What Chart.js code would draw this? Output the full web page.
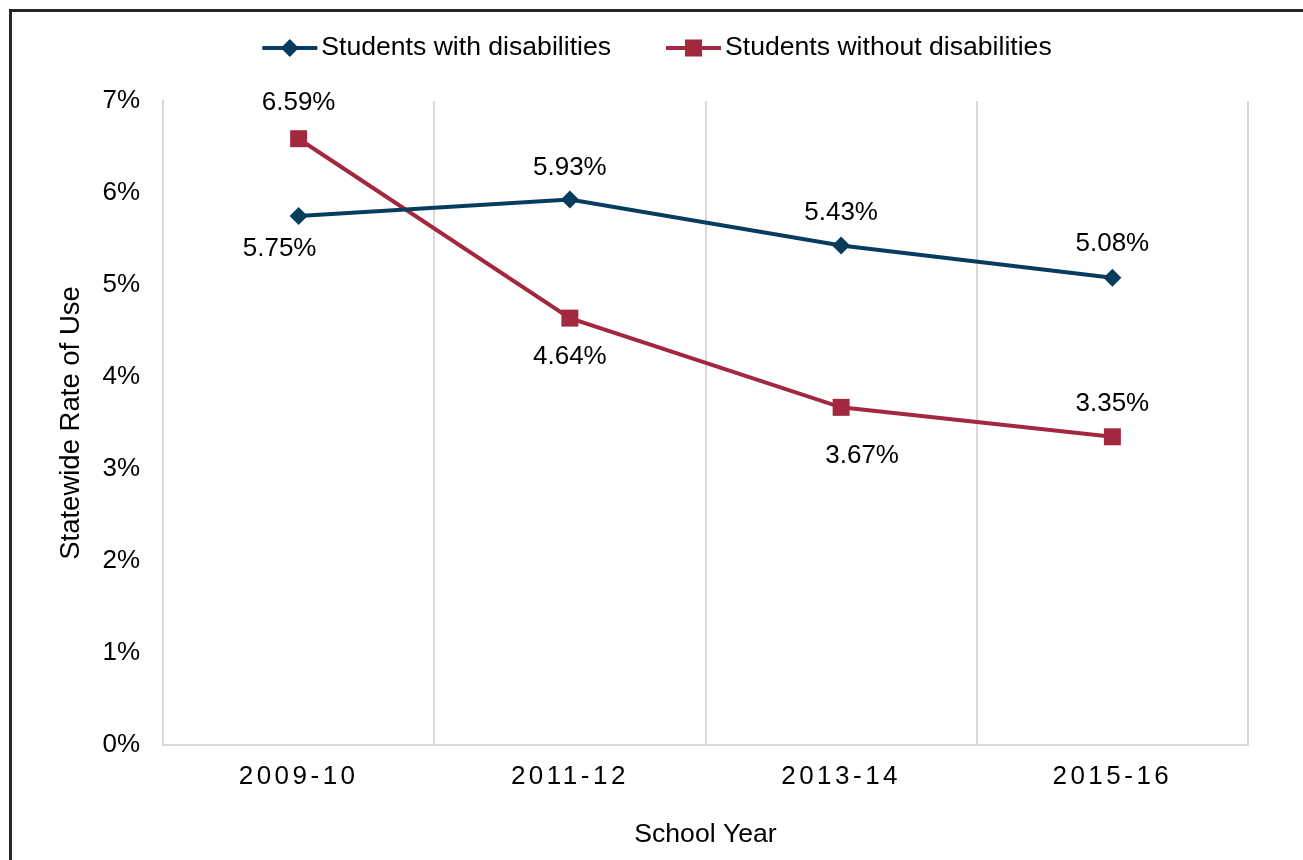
<!DOCTYPE html>
<html>
<head>
<meta charset="utf-8">
<title>Statewide Rate of Use</title>
<script src="https://cdn.jsdelivr.net/npm/chart.js@4.4.1/dist/chart.umd.min.js"></script>
<style>
    html, body { margin: 0; padding: 0; background: #fff; }
    body { width: 1303px; height: 860px; position: relative; overflow: hidden; }
    .frame {
        position: absolute; left: 9px; top: 9px; width: 1400px; height: 900px;
        border-left: 3px solid #262626; border-top: 3px solid #262626;
    }
    #chartWrap { position: absolute; left: 0; top: 0; width: 1303px; height: 860px; }
</style>
</head>
<body>
<div class="frame"></div>
<div id="chartWrap"><canvas id="rateChart" width="1303" height="860"></canvas></div>
<script>
// data
const schoolYears = ['2009-10', '2011-12', '2013-14', '2015-16'];
const withDisabilities = [5.75, 5.93, 5.43, 5.08];
const withoutDisabilities = [6.59, 4.64, 3.67, 3.35];
const seriesNames = ['Students with disabilities', 'Students without disabilities'];
const yMin = 0, yMax = 7, yStep = 1;

// where each value label sits relative to its point [dx, dy]
const labelOffsets = [
    [[-19, 33], [0, -32], [0, -33], [0, -34]],
    [[0, -36], [0, 39], [21, 48], [0, -33]]
];

const blue = '#073C5E';
const red = '#A3283F';
const gridGrey = '#d9d9d9';
const fontFamily = "'Liberation Sans', Arial, sans-serif";

Chart.defaults.font.family = fontFamily;
Chart.defaults.font.size = 26;
Chart.defaults.color = '#000';

function drawMarker(ctx, style, x, y, color) {
    ctx.fillStyle = color;
    ctx.beginPath();
    if (style === 'rectRot') {
        ctx.moveTo(x - 9, y);
        ctx.lineTo(x, y - 9);
        ctx.lineTo(x + 9, y);
        ctx.lineTo(x, y + 9);
    } else {
        ctx.rect(x - 8.5, y - 8.5, 17, 17);
    }
    ctx.closePath();
    ctx.fill();
}

// value labels next to each point
const valueLabels = {
    id: 'valueLabels',
    afterDatasetsDraw(chart) {
        const ctx = chart.ctx;
        ctx.save();
        ctx.font = '26px ' + fontFamily;
        ctx.fillStyle = '#000';
        ctx.textAlign = 'center';
        ctx.textBaseline = 'middle';
        chart.data.datasets.forEach((ds, i) => {
            chart.getDatasetMeta(i).data.forEach((pt, j) => {
                const [dx, dy] = labelOffsets[i][j];
                ctx.fillText(ds.data[j].toFixed(2) + '%', pt.x + dx, pt.y + dy);
            });
        });
        ctx.restore();
    }
};

// line + marker legend, like the office-style original
const lineLegend = {
    id: 'lineLegend',
    afterDraw(chart) {
        const ctx = chart.ctx;
        const iconW = 55, textGap = 4, itemGap = 55, centerX = 657, y = 48;
        ctx.save();
        ctx.font = '26.6px ' + fontFamily;
        const items = chart.data.datasets.map(ds => ({ds, w: iconW + textGap + ctx.measureText(ds.label).width}));
        let x = centerX - (items.reduce((s, it) => s + it.w, 0) + itemGap * (items.length - 1)) / 2;
        items.forEach(({ds, w}) => {
            ctx.strokeStyle = ds.borderColor;
            ctx.lineWidth = 4;
            ctx.beginPath();
            ctx.moveTo(x, y);
            ctx.lineTo(x + iconW, y);
            ctx.stroke();
            drawMarker(ctx, ds.pointStyle, x + iconW / 2, y, ds.borderColor);
            ctx.fillStyle = '#000';
            ctx.textAlign = 'left';
            ctx.textBaseline = 'middle';
            ctx.fillText(ds.label, x + iconW + textGap, y);
            x += w + itemGap;
        });
        ctx.restore();
    }
};

// x tick labels in the original are letter-spaced
const spacedTicks = {
    id: 'spacedTicks',
    afterUpdate(chart) {
        const xs = chart.scales.x;
        if (xs._spaced) return;
        const orig = xs.drawLabels.bind(xs);
        xs.drawLabels = function (area) {
            this.ctx.save();
            this.ctx.letterSpacing = '3.5px';
            orig(area);
            this.ctx.restore();
        };
        xs._spaced = true;
    }
};

new Chart(document.getElementById('rateChart'), {
    type: 'line',
    data: {
        labels: schoolYears,
        datasets: [{
            label: seriesNames[0],
            data: withDisabilities,
            borderColor: blue,
            backgroundColor: blue,
            borderWidth: 4,
            pointStyle: 'rectRot',
            pointRadius: 9,
            pointBorderWidth: 0,
            tension: 0
        }, {
            label: seriesNames[1],
            data: withoutDisabilities,
            borderColor: red,
            backgroundColor: red,
            borderWidth: 4,
            pointStyle: 'rect',
            pointRadius: 12,
            pointBorderWidth: 0,
            tension: 0
        }]
    },
    options: {
        responsive: false,
        animation: false,
        layout: { padding: { top: 101, right: 55, bottom: 0, left: 0 } },
        plugins: {
            legend: { display: false },
            tooltip: { enabled: false }
        },
        scales: {
            x: {
                offset: true,
                grid: { offset: true, color: gridGrey, lineWidth: 2, drawTicks: false },
                border: { color: gridGrey, width: 2 },
                ticks: { padding: 16, maxRotation: 0 },
                title: { display: true, text: 'School Year', font: { size: 26.6 }, padding: { top: 0, bottom: 9 } },
                afterFit(scale) { scale.height = 115; }
            },
            y: {
                min: yMin,
                max: yMax,
                ticks: { stepSize: yStep, padding: 23, callback: v => v + '%' },
                grid: { display: false, drawTicks: false },
                border: { display: true, color: gridGrey, width: 2 },
                title: { display: true, text: 'Statewide Rate of Use', font: { size: 27.5 }, padding: { top: 55, bottom: 0 } },
                afterFit(scale) { scale.width = 163; }
            }
        }
    },
    plugins: [valueLabels, lineLegend, spacedTicks]
});
</script>
</body>
</html>
